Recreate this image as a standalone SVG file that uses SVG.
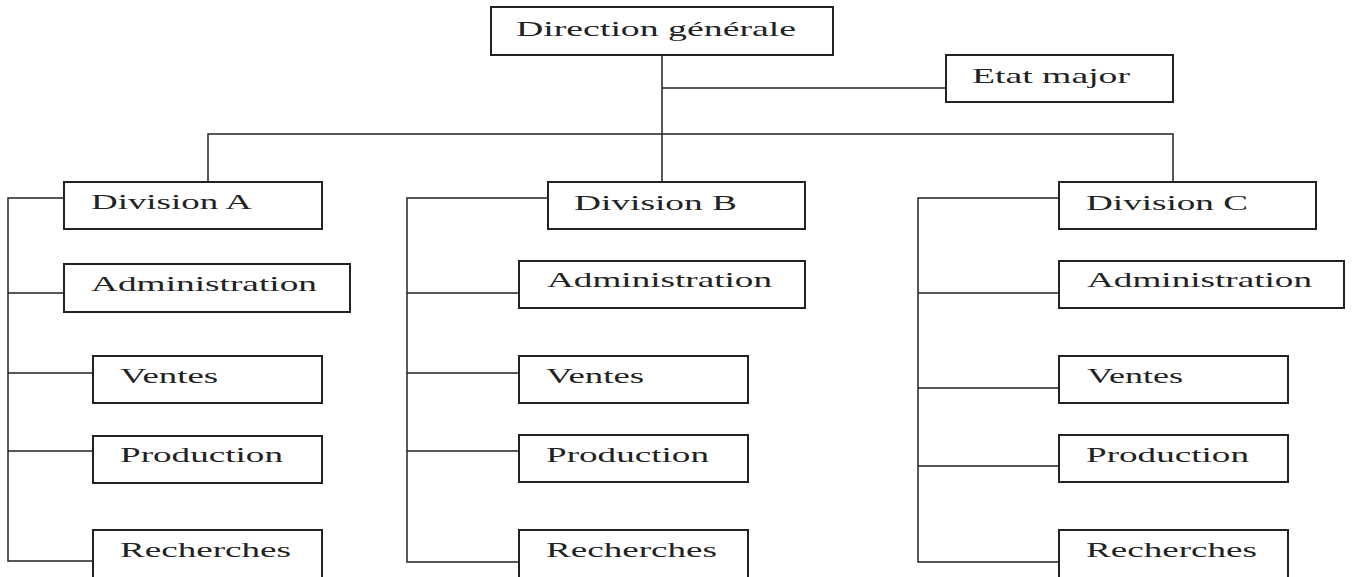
<svg xmlns="http://www.w3.org/2000/svg" width="1352" height="577" viewBox="0 0 1352 577">
<style>
.box{fill:#fff;stroke:#222;stroke-width:2}
.lbl{font-family:"Liberation Serif","Times New Roman",serif;font-size:22px;fill:#222}
.con{fill:none;stroke:#222;stroke-width:1.5}
</style>
<rect width="1352" height="577" fill="#fff"/>
<g id="connectors" class="con">
<path d="M662 55V182"/>
<path d="M662 88H946"/>
<path d="M208 182V134H1173V182"/>
<path d="M64 198H8V561H93"/>
<path d="M8 293H64M8 373H93M8 451H93"/>
<path d="M548 198H407V562H519"/>
<path d="M407 293H519M407 373H519M407 451H519"/>
<path d="M1059 198H918V562H1059"/>
<path d="M918 293H1059M918 388H1059M918 466H1059"/>
</g>
<g id="direction"><rect class="box" x="491" y="7" width="342" height="48"/><text class="lbl" x="516" y="36" textLength="280" lengthAdjust="spacingAndGlyphs">Direction générale</text></g>
<g id="etat-major"><rect class="box" x="946" y="55" width="227" height="47"/><text class="lbl" x="972" y="83" textLength="158" lengthAdjust="spacingAndGlyphs">Etat major</text></g>
<g id="division-a"><rect class="box" x="64" y="182" width="258" height="47"/><text class="lbl" x="91" y="209" textLength="161" lengthAdjust="spacingAndGlyphs">Division A</text></g>
<g id="admin-a"><rect class="box" x="64" y="264" width="286" height="48"/><text class="lbl" x="91" y="291" textLength="226" lengthAdjust="spacingAndGlyphs">Administration</text></g>
<g id="ventes-a"><rect class="box" x="93" y="356" width="229" height="47"/><text class="lbl" x="120" y="383" textLength="98" lengthAdjust="spacingAndGlyphs">Ventes</text></g>
<g id="production-a"><rect class="box" x="93" y="436" width="229" height="47"/><text class="lbl" x="120" y="462" textLength="163" lengthAdjust="spacingAndGlyphs">Production</text></g>
<g id="recherches-a"><rect class="box" x="93" y="530" width="229" height="50"/><text class="lbl" x="120" y="557" textLength="171" lengthAdjust="spacingAndGlyphs">Recherches</text></g>
<g id="division-b"><rect class="box" x="548" y="182" width="257" height="47"/><text class="lbl" x="574" y="210" textLength="163" lengthAdjust="spacingAndGlyphs">Division B</text></g>
<g id="admin-b"><rect class="box" x="519" y="261" width="286" height="47"/><text class="lbl" x="547" y="287" textLength="225" lengthAdjust="spacingAndGlyphs">Administration</text></g>
<g id="ventes-b"><rect class="box" x="519" y="356" width="229" height="47"/><text class="lbl" x="546" y="383" textLength="98" lengthAdjust="spacingAndGlyphs">Ventes</text></g>
<g id="production-b"><rect class="box" x="519" y="435" width="229" height="47"/><text class="lbl" x="546" y="462" textLength="163" lengthAdjust="spacingAndGlyphs">Production</text></g>
<g id="recherches-b"><rect class="box" x="519" y="530" width="229" height="50"/><text class="lbl" x="546" y="557" textLength="171" lengthAdjust="spacingAndGlyphs">Recherches</text></g>
<g id="division-c"><rect class="box" x="1059" y="182" width="257" height="47"/><text class="lbl" x="1086" y="210" textLength="162" lengthAdjust="spacingAndGlyphs">Division C</text></g>
<g id="admin-c"><rect class="box" x="1059" y="261" width="285" height="47"/><text class="lbl" x="1087" y="287" textLength="225" lengthAdjust="spacingAndGlyphs">Administration</text></g>
<g id="ventes-c"><rect class="box" x="1059" y="356" width="229" height="47"/><text class="lbl" x="1087" y="383" textLength="96" lengthAdjust="spacingAndGlyphs">Ventes</text></g>
<g id="production-c"><rect class="box" x="1059" y="435" width="229" height="47"/><text class="lbl" x="1086" y="462" textLength="163" lengthAdjust="spacingAndGlyphs">Production</text></g>
<g id="recherches-c"><rect class="box" x="1059" y="530" width="229" height="50"/><text class="lbl" x="1086" y="557" textLength="171" lengthAdjust="spacingAndGlyphs">Recherches</text></g>
</svg>
